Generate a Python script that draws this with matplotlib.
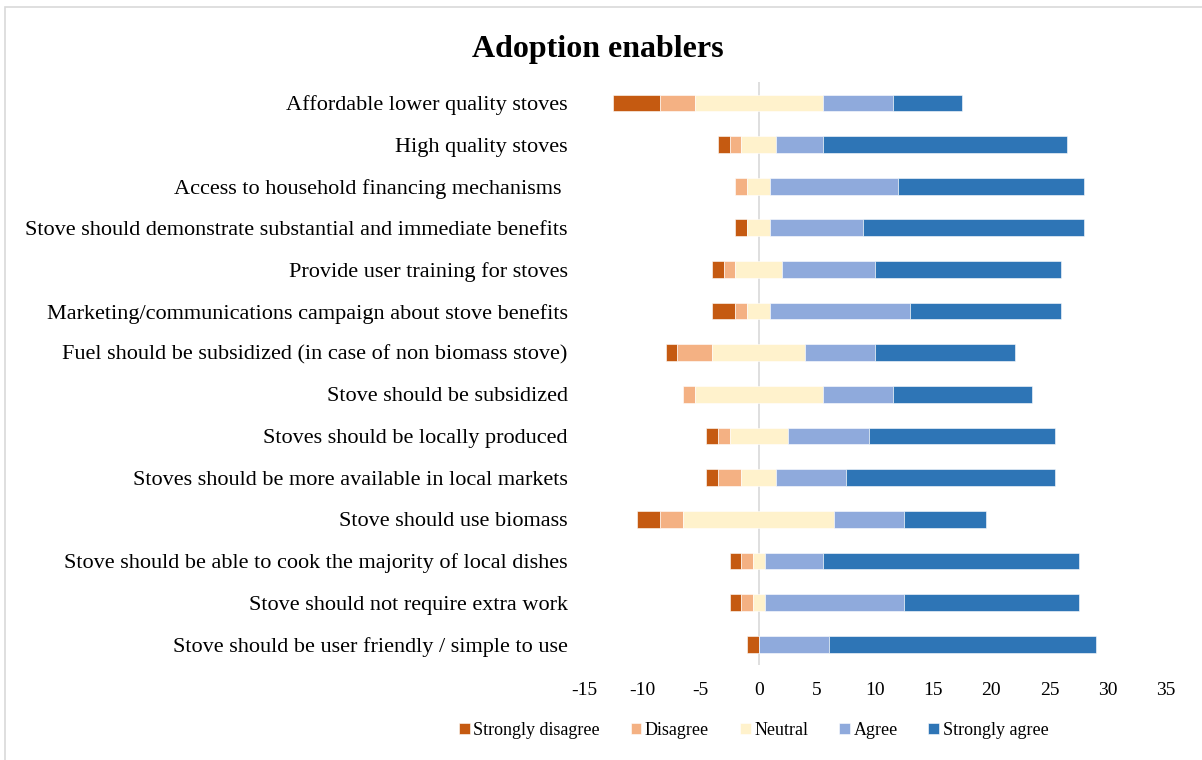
import matplotlib.pyplot as plt
import numpy as np
from matplotlib.patches import Rectangle

plt.rcParams['font.family'] = ['Liberation Serif', 'DejaVu Serif']
plt.rcParams['axes.unicode_minus'] = False

statements = [
    'Affordable lower quality stoves',
    'High quality stoves',
    'Access to household financing mechanisms ',
    'Stove should demonstrate substantial and immediate benefits',
    'Provide user training for stoves',
    'Marketing/communications campaign about stove benefits',
    'Fuel should be subsidized (in case of non biomass stove)',
    'Stove should be subsidized',
    'Stoves should be locally produced',
    'Stoves should be more available in local markets',
    'Stove should use biomass',
    'Stove should be able to cook the majority of local dishes',
    'Stove should not require extra work',
    'Stove should be user friendly / simple to use',
]
strongly_disagree = [4, 1, 0, 1, 1, 2, 1, 0, 1, 1, 2, 1, 1, 1]
disagree = [3, 1, 1, 0, 1, 1, 3, 1, 1, 2, 2, 1, 1, 0]
neutral = [11, 3, 2, 2, 4, 2, 8, 11, 5, 3, 13, 1, 1, 0]
agree = [6, 4, 11, 8, 8, 12, 6, 6, 7, 6, 6, 5, 12, 6]
strongly_agree = [6, 21, 16, 19, 16, 13, 12, 12, 16, 18, 7, 22, 15, 23]

levels = ['Strongly disagree', 'Disagree', 'Neutral', 'Agree', 'Strongly agree']
colors = ['#C55A11', '#F4B183', '#FFF2CC', '#8FAADC', '#2E75B6']

sd = np.array(strongly_disagree, dtype=float)
d = np.array(disagree, dtype=float)
n = np.array(neutral, dtype=float)
a = np.array(agree, dtype=float)
sa = np.array(strongly_agree, dtype=float)

# neutral is split around zero
starts = [-n / 2 - d - sd, -n / 2 - d, -n / 2, n / 2, n / 2 + a]
widths = [sd, d, n, a, sa]

fig = plt.figure(figsize=(12.02, 7.6), dpi=100)
ax = fig.add_axes([0.486, 0.125, 0.484, 0.767])

y = np.arange(len(statements))
for left, w, lab, c in zip(starts, widths, levels, colors):
    ax.barh(y, w, left=left, height=0.4, color=c, label=lab,
            edgecolor='white', linewidth=0.4)

ax.axvline(0, color='#D9D9D9', linewidth=1.2, zorder=0)
ax.set_xlim(-15, 35)
ax.set_ylim(len(statements) - 0.5, -0.5)
ax.set_xticks(np.arange(-15, 36, 5))
ax.set_yticks(y)
ax.set_yticklabels(statements, fontsize=16)
ax.tick_params(axis='x', labelsize=14, length=0, pad=12)
ax.tick_params(axis='y', length=0, pad=12)
for s in ax.spines.values():
    s.set_visible(False)

fig.text(0.497, 0.935, 'Adoption enablers', ha='center', va='center',
         fontsize=23, fontweight='bold')

ax.legend(loc='center', bbox_to_anchor=(0.627, 0.039), bbox_transform=fig.transFigure,
          ncol=5, frameon=False, fontsize=13, handlelength=0.6, handleheight=0.6,
          handletextpad=0.2, columnspacing=1.7)

fig.patches.append(Rectangle((5 / 1202, -0.1), 1.2, 1.1 - 7 / 760,
                             transform=fig.transFigure, fill=False,
                             edgecolor='#D9D9D9', linewidth=1.2))

fig.savefig('out.png', dpi=100)
